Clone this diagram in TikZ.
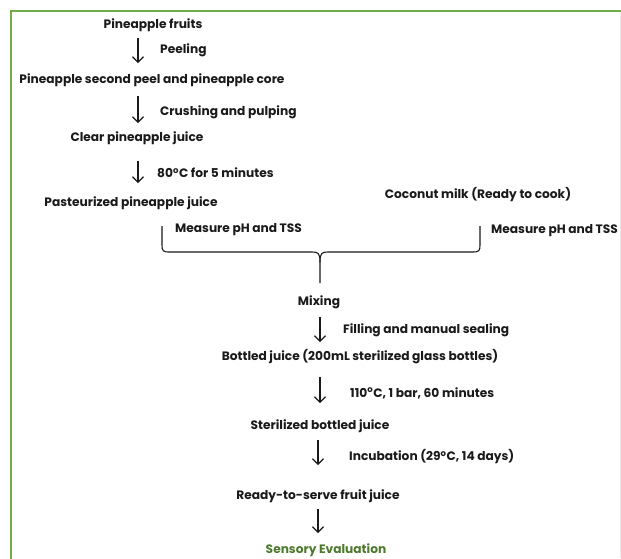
\documentclass[tikz,border=0pt]{standalone}
\usepackage{fontspec}
\setmainfont{Poppins}
\usetikzlibrary{arrows.meta}
\definecolor{frame}{HTML}{70AD47}
\definecolor{txt}{HTML}{1A1A1A}
\definecolor{sens}{HTML}{4E7A2E}
\begin{document}
\begin{tikzpicture}[x=1pt,y=-1pt,
  stage/.style={inner sep=0pt,font=\fontsize{12.2}{14}\selectfont\bfseries,text=txt},
  lab/.style={stage,anchor=west},
  arr/.style={-{Straight Barb[length=5.5pt,width=11pt]},line width=1.1pt,draw=txt},
  bracel/.style={line width=1.1pt,draw=txt}]
\useasboundingbox (0,0) rectangle (621,558);
\fill[white] (0,0) rectangle (621,558);
\draw[frame,line width=2.6pt] (11,560) -- (11,11) -- (622,11);
\draw[black!8,line width=0.8pt] (620,12) -- (620,558);

% stages
\node[stage] (fruits) at (153,25) {Pineapple fruits};
\node[stage] (peel) at (152,80) {Pineapple second peel and pineapple core};
\node[stage] (clear) at (137,138) {Clear pineapple juice};
\node[stage] (past) at (131,203) {Pasteurized pineapple juice};
\node[stage] (coco) at (478,195) {Coconut milk (Ready to cook)};
\node[stage] (mix) at (319,302) {Mixing};
\node[stage] (bottled) at (360,357) {Bottled juice (200mL sterilized glass bottles)};
\node[stage] (steril) at (320,426) {Sterilized bottled juice};
\node[stage] (ready) at (318,496) {Ready-to-serve fruit juice};
\node[stage,text=sens] (sensory) at (326,550) {Sensory Evaluation};

% labels
\node[lab] (l1) at (160,50) {Peeling};
\node[lab] (l2) at (160,112) {Crushing and pulping};
\node[lab] (l3) at (157,173) {80\textsuperscript{o}C for 5 minutes};
\node[lab] (l4) at (175,230) {Measure pH and TSS};
\node[lab] (l5) at (491,231) {Measure pH and TSS};
\node[lab] (l6) at (343,330) {Filling and manual sealing};
\node[lab] (l7) at (350,393) {110\textsuperscript{o}C, 1 bar, 60 minutes};
\node[lab] (l8) at (349,457) {Incubation (29\textsuperscript{o}C, 14 days)};

% arrow end points
\coordinate (a1s) at (138,38);  \coordinate (a1e) at (138,63);
\coordinate (a2s) at (138,96);  \coordinate (a2e) at (138,123);
\coordinate (a3s) at (138,161); \coordinate (a3e) at (138,183);
\coordinate (a4s) at (320,317); \coordinate (a4e) at (320,342);
\coordinate (a5s) at (320,377); \coordinate (a5e) at (320,403);
\coordinate (a6s) at (318,440); \coordinate (a6e) at (318,465);
\coordinate (a7s) at (318,509); \coordinate (a7e) at (318,533);
\foreach \i in {1,...,7} {\draw[arr] (a\i s) -- (a\i e);}

% brace joining the two inputs
\coordinate (bl) at (162,226);
\coordinate (br) at (480,226);
\coordinate (bt) at (320,283);
\draw[bracel] (bl) -- (162,245) .. controls (162,251) and (163,252) .. (170,252)
  -- (312,252) .. controls (318,252) and (320,253) .. (320,262) -- (bt);
\draw[bracel] (br) -- (480,245) .. controls (480,251) and (479,252) .. (472,252)
  -- (328,252) .. controls (322,252) and (320,253) .. (320,262);
\end{tikzpicture}
\end{document}
